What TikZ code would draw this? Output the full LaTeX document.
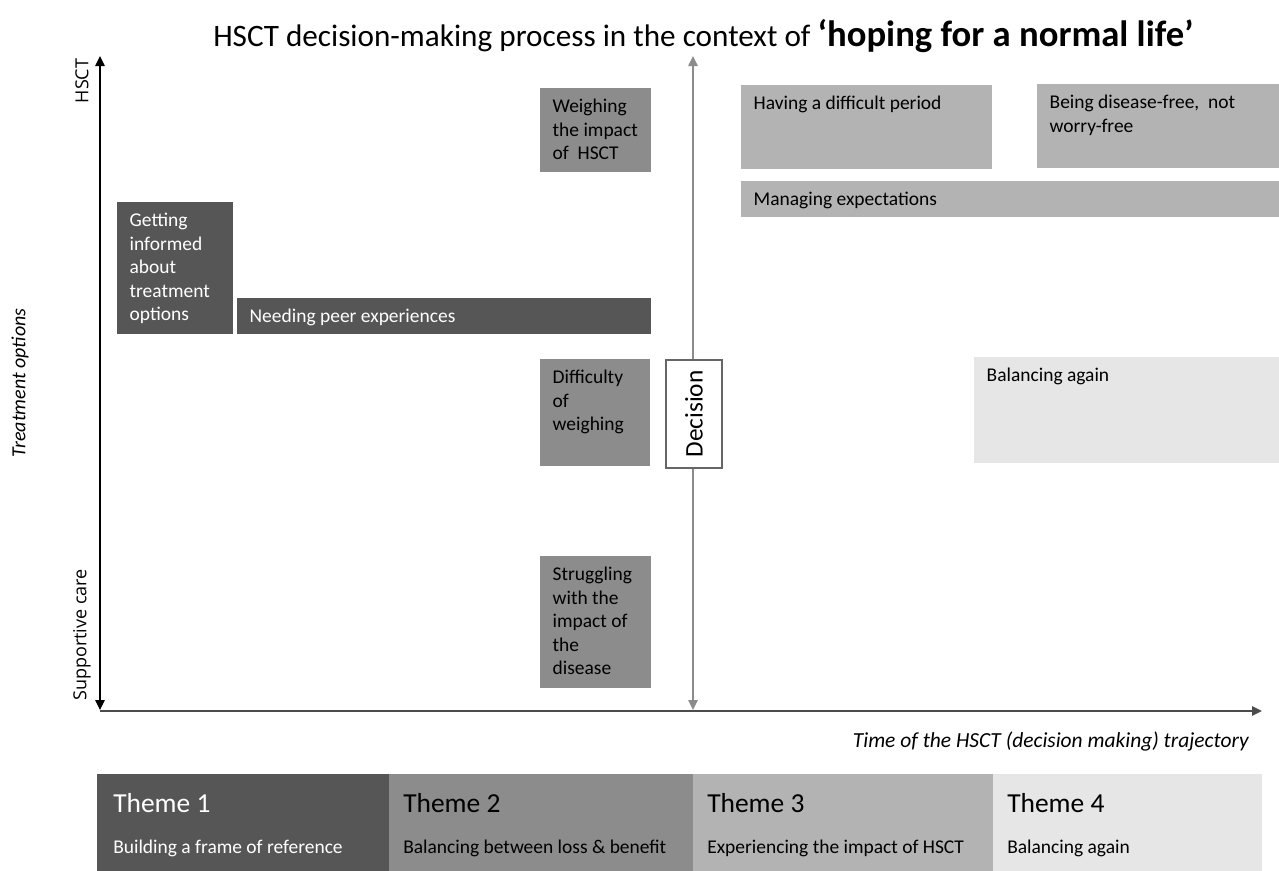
\documentclass[tikz,border=0pt]{standalone}
\usepackage{fontspec}
\setmainfont{Carlito}
\newfontfamily\axisfont{Open Sans}
\usetikzlibrary{arrows.meta,fit}

\definecolor{themeone}{HTML}{565656}
\definecolor{themetwo}{HTML}{8C8C8C}
\definecolor{themethree}{HTML}{B3B3B3}
\definecolor{themefour}{HTML}{E6E6E6}

\tikzset{
  panel/.style={fill=#1, draw=none, inner sep=0pt},
  boxtext/.style={anchor=north west, inner xsep=9.5pt, inner ysep=8.5pt, align=left,
    font=\fontsize{14.6}{17.6}\selectfont},
  themehead/.style={anchor=base west, inner sep=0pt, font=\fontsize{20.6}{24}\selectfont},
  themesub/.style={anchor=base west, inner sep=0pt, font=\fontsize{14.6}{17.6}\selectfont},
  axislabel/.style={rotate=90, inner sep=0pt, font=\axisfont\fontsize{13.5}{16}\selectfont},
  tip/.style={-{Triangle[length=7.5pt,width=7pt]}}
}

\begin{document}
\begin{tikzpicture}[x=0.75pt,y=-0.75pt]
\useasboundingbox (0,0) rectangle (1279,871);

% title
\node[anchor=base west, inner sep=0pt, font=\fontsize{23.4}{28}\selectfont] (title) at (213,46)
  {HSCT decision-making process in the context of {\fontsize{27.5}{30}\selectfont\bfseries`hoping for a normal life'}};

% axes
\coordinate (origin) at (100,711);
\coordinate (ytop) at (100,56);
\coordinate (xend) at (1262,711);
\coordinate (dectop) at (693,56);
\coordinate (decbot) at (693,710);
\draw[line width=1.5pt, black!70, tip] (origin) -- (xend);
\draw[line width=1.1pt, {Triangle[length=7.5pt,width=7pt]}-{Triangle[length=7.5pt,width=7pt]}] (ytop) -- (100,710);
\draw[line width=1.1pt, black!45, {Triangle[length=7.5pt,width=7pt]}-{Triangle[length=7.5pt,width=7pt]}] (dectop) -- (decbot);
\node[draw=black!60, fill=white, line width=0.8pt, minimum width=42pt, minimum height=81pt,
  inner sep=0pt] (decision) at (694,414) {};
\node[rotate=90, font=\fontsize{19}{22}\selectfont] (decisiontext) at (decision.center) {Decision};

\node[axislabel] (hsct) at (82,81) {HSCT};
\node[axislabel] (supportive) at (82,635) {Supportive care};
\node[rotate=90, inner sep=0pt, font=\fontsize{15}{18}\itshape] (options) at (20,383) {Treatment options};
\node[anchor=east, inner sep=0pt, font=\fontsize{16.1}{19}\itshape] (time) at (1249,741)
  {Time of the HSCT (decision making) trajectory};

% theme 1 boxes
\node[panel=themeone, fit={(117,202) (233,334)}] (inform) {};
\node[boxtext, white] (informtext) at (inform.north west)
  {Getting\\informed\\about\\treatment\\options};
\node[panel=themeone, fit={(237,298) (651,334)}] (peer) {};
\node[boxtext, white] (peertext) at (peer.north west) {Needing peer experiences};

% theme 2 boxes
\node[panel=themetwo, fit={(540,88) (651,172)}] (weigh) {};
\node[boxtext] (weightext) at (weigh.north west) {Weighing\\the impact\\of~ HSCT};
\node[panel=themetwo, fit={(540,359) (650,466)}] (difficulty) {};
\node[boxtext] (difficultytext) at (difficulty.north west) {Difficulty\\of\\weighing};
\node[panel=themetwo, fit={(540,556) (651,688)}] (struggle) {};
\node[boxtext] (struggletext) at (struggle.north west)
  {Struggling\\with the\\impact of\\the\\disease};

% theme 3 boxes
\node[panel=themethree, fit={(741,85) (992,169)}] (period) {};
\node[boxtext] (periodtext) at (period.north west) {Having a difficult period};
\node[panel=themethree, fit={(1037,84) (1279,168)}] (free) {};
\node[boxtext] (freetext) at (free.north west) {Being disease-free,~ not\\worry-free};
\node[panel=themethree, fit={(741,181) (1279,217)}] (expect) {};
\node[boxtext] (expecttext) at (expect.north west) {Managing expectations};

% theme 4 box
\node[panel=themefour, fit={(974,357) (1279,463)}] (again) {};
\node[boxtext] (againtext) at (again.north west) {Balancing again};

% theme bar
\node[panel=themeone, fit={(97,774) (389,871)}] (themeA) {};
\node[panel=themetwo, fit={(389,774) (693,871)}] (themeB) {};
\node[panel=themethree, fit={(693,774) (993,871)}] (themeC) {};
\node[panel=themefour, fit={(993,774) (1262,871)}] (themeD) {};
\node[themehead, white] (themeAhead) at (113,812) {Theme 1};
\node[themesub, white] (themeAsub) at (113,853) {Building a frame of reference};
\node[themehead] (themeBhead) at (403,812) {Theme 2};
\node[themesub] (themeBsub) at (403,853) {Balancing between loss \& benefit};
\node[themehead] (themeChead) at (707,812) {Theme 3};
\node[themesub] (themeCsub) at (707,853) {Experiencing the impact of HSCT};
\node[themehead] (themeDhead) at (1007,812) {Theme 4};
\node[themesub] (themeDsub) at (1007,853) {Balancing again};
\end{tikzpicture}
\end{document}
